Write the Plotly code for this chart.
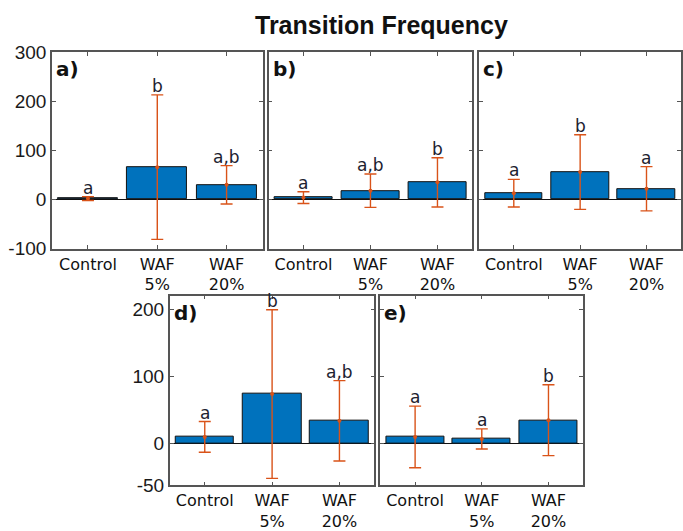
import plotly.graph_objects as go

# ---- data ----
categories = ["Control", "WAF<br>5%", "WAF<br>20%"]
panel_labels = ["a)", "b)", "c)", "d)", "e)"]

means_a = [2, 66, 30]
err_a = [4, 147, 39]
letters_a = ["a", "b", "a,b"]

means_b = [4, 18, 35]
err_b = [12, 34, 50]
letters_b = ["a", "a,b", "b"]

means_c = [13, 56, 22]
err_c = [28, 76, 45]
letters_c = ["a", "b", "a"]

means_d = [10, 74, 34]
err_d = [23, 126, 60]
letters_d = ["a", "b", "a,b"]

means_e = [10, 7, 35]
err_e = [46, 15, 53]
letters_e = ["a", "a", "b"]

top_ticks = [-100, 0, 100, 200, 300]
top_ticktext = ["-100", "0", "100", "200", "300"]
bot_ticks = [-62.5, 0, 100, 200]
bot_ticktext = ["-50", "0", "100", "200"]

W, H = 683, 531
BAR = "#0072BD"
ERR = "#D95319"
FONT = "Liberation Sans, Arial, sans-serif"
DFONT = "DejaVu Sans, Verdana, sans-serif"

panels = [
    (means_a, err_a, letters_a, (52, 263), (44, 249), [-100, 300], True),
    (means_b, err_b, letters_b, (269, 473), (44, 249), [-100, 300], False),
    (means_c, err_c, letters_c, (480, 682), (44, 249), [-100, 300], False),
    (means_d, err_d, letters_d, (170, 375), (298, 496), [-62.5, 221], True),
    (means_e, err_e, letters_e, (381, 584), (298, 496), [-62.5, 221], False),
]

fig = go.Figure()
annotations = []
xs = [0, 1, 2]
for i, (m, e, lets, (x0, x1), (y0, y1), yr, showlab) in enumerate(panels):
    n = "" if i == 0 else str(i + 1)
    xa, ya = "x" + n, "y" + n
    fig.add_trace(go.Bar(
        x=xs, y=m, width=0.87, xaxis=xa, yaxis=ya,
        marker=dict(color=BAR, line=dict(color="#111111", width=1)),
        error_y=dict(type="data", array=e, visible=True, color=ERR,
                     thickness=1.4, width=6),
        showlegend=False, hoverinfo="skip",
    ))
    fig.add_trace(go.Scatter(
        x=xs, y=m, xaxis=xa, yaxis=ya, mode="markers",
        marker=dict(color=ERR, size=4), showlegend=False, hoverinfo="skip",
    ))
    top = top_ticks if yr[0] == -100 else bot_ticks
    toptext = top_ticktext if yr[0] == -100 else bot_ticktext
    fig.layout["xaxis" + n] = dict(
        domain=[x0 / W, x1 / W], anchor=ya, range=[-0.52, 2.52],
        tickvals=xs, ticktext=categories,
        ticks="inside", ticklen=4, tickcolor="#555", mirror="ticks",
        showline=True, linecolor="#555", linewidth=1.5,
        showgrid=False, zeroline=False, fixedrange=True,
        tickfont=dict(family=DFONT, size=16, color="#111"),
    )
    fig.layout["yaxis" + n] = dict(
        domain=[1 - y1 / H, 1 - y0 / H], anchor=xa, range=yr,
        tickvals=top, ticktext=toptext, showticklabels=showlab,
        ticks="inside", ticklen=4, tickcolor="#555", mirror="ticks",
        showline=True, linecolor="#555", linewidth=1.5,
        showgrid=False, zeroline=True, zerolinecolor="#111", zerolinewidth=1,
        tickfont=dict(family=FONT, size=19, color="#1a1a1a"),
    )
    for k in range(3):
        annotations.append(dict(
            x=xs[k], y=m[k] + e[k], xref=xa, yref=ya, text=lets[k],
            showarrow=False, yanchor="bottom", xanchor="center", yshift=-3,
            font=dict(family=DFONT, size=17, color="#1c2230"),
        ))
    annotations.append(dict(
        x=0.01, y=1, xref=xa + " domain", yref=ya + " domain",
        text="<b>" + panel_labels[i] + "</b>", showarrow=False,
        xanchor="left", yanchor="top", yshift=-3,
        font=dict(family=DFONT, size=20, color="#111"),
    ))

annotations.append(dict(
    x=382 / W, y=1 - 16 / H, xref="paper", yref="paper",
    text="<b>Transition Frequency</b>", showarrow=False,
    xanchor="center", yanchor="middle",
    font=dict(family=FONT, size=25, color="#111"),
))

fig.update_layout(
    width=W, height=H, margin=dict(l=0, r=0, t=0, b=0),
    paper_bgcolor="white", plot_bgcolor="white",
    annotations=annotations, bargap=0,
)
fig.write_html("out.html")
